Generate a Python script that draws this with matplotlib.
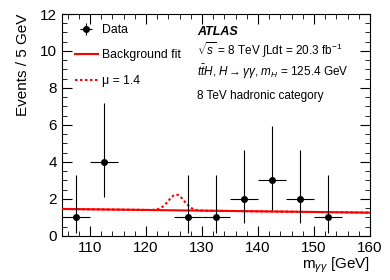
import numpy as np
import matplotlib
matplotlib.use("Agg")
import matplotlib.pyplot as plt
from matplotlib.ticker import MultipleLocator

plt.rcParams['font.family'] = ['Liberation Sans', 'DejaVu Sans']
plt.rcParams['mathtext.fontset'] = 'custom'
plt.rcParams['mathtext.rm'] = 'Liberation Sans'
plt.rcParams['mathtext.it'] = 'Liberation Sans:italic'

# Data
bin_centers = [107.5, 112.5, 117.5, 122.5, 127.5, 132.5, 137.5, 142.5, 147.5, 152.5, 157.5]
counts = [1, 4, 0, 0, 1, 1, 2, 3, 2, 1, 0]
# Poisson errors (down, up) for n = 1..4
err_lo = {1: 0.83, 2: 1.29, 3: 1.63, 4: 1.91}
err_hi = {1: 2.30, 2: 2.64, 3: 2.92, 4: 3.16}
bin_half_width = 2.5

# Background fit (linear approx) and signal
bkg_x = [105, 160]
bkg_y = [1.45, 1.25]
sig_mass = 125.4
sig_height = 0.85
sig_width = 1.4

fig = plt.figure(figsize=(3.9, 2.8), dpi=100)
ax = fig.add_axes([0.159, 0.158, 0.79, 0.792])

xs = np.linspace(105, 160, 600)
bkg = np.interp(xs, bkg_x, bkg_y)
sig = bkg + sig_height * np.exp(-0.5 * ((xs - sig_mass) / sig_width) ** 2)
ax.plot(xs, sig, color='red', ls=(0, (1.2, 1.2)), lw=1.5, label='μ = 1.4', zorder=2)
ax.plot(xs, bkg, color='red', lw=1.5, label='Background fit', zorder=3)

px = [c for c, n in zip(bin_centers, counts) if n > 0]
py = [n for n in counts if n > 0]
lo = [err_lo[n] for n in py]
hi = [err_hi[n] for n in py]
ax.errorbar(px, py, xerr=bin_half_width, yerr=[lo, hi], fmt='o', color='black',
            ms=4, lw=0.8, capsize=0, label='Data', zorder=4)

ax.set_xlim(105, 160)
ax.set_ylim(0, 12)
ax.xaxis.set_major_locator(MultipleLocator(10))
ax.xaxis.set_minor_locator(MultipleLocator(2))
ax.yaxis.set_major_locator(MultipleLocator(2))
ax.yaxis.set_minor_locator(MultipleLocator(0.5))
ax.tick_params(which='both', direction='in', top=True, right=True, labelsize=11)
ax.tick_params(which='major', length=7)
ax.tick_params(which='minor', length=3.5)

ax.set_ylabel('Events / 5 GeV', fontsize=11, labelpad=7, loc='top')
ax.set_xlabel(r'm$_{\gamma\gamma}$ [GeV]', fontsize=11, loc='right', labelpad=0.5)

h, l = ax.get_legend_handles_labels()
order = [2, 1, 0]
ax.legend([h[i] for i in order], [l[i] for i in order], loc='upper left',
          frameon=False, fontsize=8.8, handlelength=1.85, handletextpad=0.4,
          labelspacing=1.1, bbox_to_anchor=(0.042, 0.955), borderaxespad=0.0,
          borderpad=0.0)

tx = 0.438
ax.text(tx, 0.919, 'ATLAS', transform=ax.transAxes, fontsize=9,
        fontweight='bold', style='italic', va='center')
ax.text(tx, 0.838, r'$\sqrt{s}$ = 8 TeV $\int$Ldt = 20.3 fb$^{-1}$', transform=ax.transAxes,
        fontsize=8.5, va='center')
ax.text(tx, 0.739, r'$t\bar{t}H$, $H\rightarrow\gamma\gamma$, $m_H$ = 125.4 GeV',
        transform=ax.transAxes, fontsize=8.5, va='center')
ax.text(tx, 0.630, '8 TeV hadronic category', transform=ax.transAxes,
        fontsize=8.5, va='center')

fig.savefig('out.png', dpi=100)
